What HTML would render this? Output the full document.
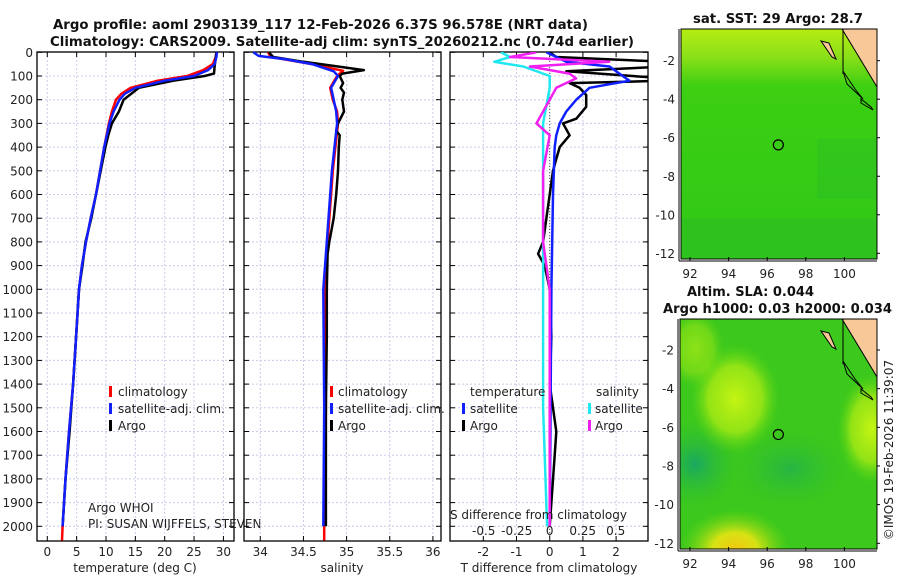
<!DOCTYPE html>
<html><head><meta charset="utf-8"><style>
html,body{margin:0;padding:0;background:#fff;}
svg{display:block;font-family:"DejaVu Sans","Liberation Sans",sans-serif;}
.t{font-size:12px;fill:#222;}
.b{font-weight:bold;font-size:13px;fill:#111;}
</style></head><body>
<svg id="fig" width="900" height="580" viewBox="0 0 900 580" xmlns="http://www.w3.org/2000/svg">
<defs>
<linearGradient id="sstTop" x1="0" y1="0" x2="0" y2="1">
<stop offset="0" stop-color="#b6ec14"/><stop offset="0.12" stop-color="#8be018"/><stop offset="0.25" stop-color="#3ccf12"/><stop offset="1" stop-color="#30c818"/></linearGradient>
<radialGradient id="y1" cx="0.5" cy="0.5" r="0.5"><stop offset="0" stop-color="#c4f414"/><stop offset="0.6" stop-color="#a8ea14" stop-opacity="0.8"/><stop offset="1" stop-color="#5cd814" stop-opacity="0"/></radialGradient>
<radialGradient id="y2" cx="0.5" cy="0.5" r="0.5"><stop offset="0" stop-color="#f0c810"/><stop offset="0.4" stop-color="#d8e214"/><stop offset="1" stop-color="#70d814" stop-opacity="0"/></radialGradient>
<radialGradient id="tl" cx="0.5" cy="0.5" r="0.5"><stop offset="0" stop-color="#18a860"/><stop offset="1" stop-color="#30c030" stop-opacity="0"/></radialGradient>
</defs>
<g id="titles">
<text class="b" x="53" y="29" textLength="535" lengthAdjust="spacingAndGlyphs">Argo profile: aoml 2903139_117 12-Feb-2026 6.37S 96.578E (NRT data)</text>
<text class="b" x="50" y="46" textLength="584" lengthAdjust="spacingAndGlyphs">Climatology: CARS2009. Satellite-adj clim: synTS_20260212.nc (0.74d earlier)</text>
<text class="b" x="693" y="23" textLength="170" lengthAdjust="spacingAndGlyphs">sat. SST: 29 Argo: 28.7</text>
<text class="b" x="687" y="296" textLength="127" lengthAdjust="spacingAndGlyphs">Altim. SLA: 0.044</text>
<text class="b" x="663" y="313" textLength="229" lengthAdjust="spacingAndGlyphs">Argo h1000: 0.03 h2000: 0.034</text>
<text class="t" x="893" y="450" transform="rotate(-90 893 450)" text-anchor="middle">©IMOS 19-Feb-2026 11:39:07</text>
</g>
<g id="panels"></g>
<g id="maps"></g>
</svg>
<script>
// ---- data ----
var depthTicks = [0,100,200,300,400,500,600,700,800,900,1000,1100,1200,1300,1400,1500,1600,1700,1800,1900,2000];
var tempTicks = [0,5,10,15,20,25,30];
var salTicks = [34,34.5,35,35.5,36];
var salTickLabels = ["34","34.5","35","35.5","36"];
var tdTicks = [-2,-1,0,1,2];
var sdTicks = [-0.5,-0.25,0,0.25,0.5];
var sdTickLabels = ["-0.5","-0.25","0","0.25","0.5"];

var tClimDepth = [0,20,50,75,100,120,150,175,200,250,300,400,500,600,700,800,900,1000,1200,1400,1600,1800,2000,2060];
var tClim      = [28.8,28.7,28.2,26.6,23.8,18.8,14.2,12.6,11.7,11.0,10.5,9.7,9.0,8.3,7.4,6.6,5.9,5.4,4.9,4.4,3.7,3.1,2.6,2.5];
var tSatDepth  = [0,20,50,75,100,120,150,175,200,250,300,400,500,600,700,800,900,1000,1200,1400,1600,1800,2000];
var tSat       = [28.9,28.8,28.5,27.4,25.0,20.0,15.0,13.2,12.3,11.3,10.6,9.7,9.0,8.3,7.4,6.6,5.9,5.4,4.9,4.4,3.7,3.1,2.6];
var tArgoDepth = [0,20,40,60,90,100,120,150,200,250,300,350,400,500,600,700,800,900,1000,1200,1400,1600,1800,2000];
var tArgo      = [28.8,28.7,28.6,28.5,28.4,26.8,21.5,15.6,13.0,12.2,11.0,10.4,9.9,9.1,8.3,7.5,6.5,6.0,5.4,4.9,4.4,3.8,3.1,2.6];

var sClimDepth = [0,20,50,78,100,150,200,250,300,500,800,1000,1500,2000,2060];
var sClim      = [34.09,34.12,34.6,34.96,34.89,34.81,34.84,34.89,34.9,34.84,34.78,34.74,34.76,34.74,34.74];
var sSatDepth  = [0,15,30,50,80,100,150,200,250,300,500,800,1000,1500,2000];
var sSat       = [33.92,33.98,34.3,34.6,34.85,34.9,34.82,34.85,34.88,34.89,34.83,34.77,34.73,34.74,34.73];
var sArgoDepth = [0,20,40,60,75,90,100,130,150,170,200,250,300,330,350,400,500,600,700,800,850,1000,1200,1500,2000];
var sArgo      = [34.1,34.15,34.5,34.9,35.2,34.95,34.92,34.96,34.93,34.97,34.95,34.97,34.9,34.88,34.92,34.91,34.9,34.88,34.85,34.8,34.78,34.77,34.77,34.76,34.76];

var dTArgoDepth = [0,20,40,60,80,110,120,130,150,180,230,280,300,350,400,450,500,600,700,800,850,900,1000,1200,1400,1600,1700,2000];
var dTArgo      = [0,0.2,3.5,3.5,0.5,3.5,3.5,0.6,0.9,1.1,1.1,0.8,0.4,0.6,0.3,0.2,0.1,0,-0.1,-0.2,-0.35,-0.15,0,0.05,0,0.2,0.15,0];
var dTSatDepth  = [0,40,60,100,120,150,200,250,300,350,400,600,1000,2000];
var dTSat       = [-0.1,0.5,1.8,2.2,2.4,1.2,0.8,0.5,0.3,0.2,0.15,0.1,0.05,0];
var dSSatDepth  = [0,20,40,60,100,150,300,600,1000,1500,2000];
var dSSat       = [-0.37,-0.3,-0.42,-0.2,0,0,-0.05,-0.05,-0.05,-0.05,-0.02];
var dSArgoDepth = [0,20,40,60,90,110,150,200,300,350,500,800,1000,1500,2000];
var dSArgo      = [-0.1,-0.3,0.45,-0.15,0.15,0.2,0.05,0,-0.1,0,-0.05,-0.05,0,0,0];

var floatLon = [96.578];
var floatLat = [-6.37];

// ---- scales ----
var PY0 = 52, PY1 = 541;
function yD(d){ return 52.3 + d*0.2370; }
function xT(t){ return 47.3 + t*5.87; }
function xS(s){ return 260.3 + (s-34)*86.3; }
function xDT(t){ return 549.7 + t*33.2; }
function xDS(s){ return 549.7 + s*132; }
var NS = "http://www.w3.org/2000/svg";
function el(tag, attrs, parent, txt){
  var e = document.createElementNS(NS, tag);
  for (var k in attrs) e.setAttribute(k, attrs[k]);
  if (txt !== undefined) e.textContent = txt;
  parent.appendChild(e); return e;
}
var P = document.getElementById('panels');

function panel(name, x0, x1, xTickVals, xf, labels){
  var g = el('g', {}, P);
  
  
  depthTicks.forEach(function(d){
    var y = yD(d);
    el('line',{x1:x0,x2:x1,y1:y,y2:y,stroke:'#c8cce8','stroke-dasharray':'2,2','stroke-width':1},g);
    el('line',{x1:x0,x2:x0+5,y1:y,y2:y,stroke:'#000'},g);
    el('line',{x1:x1-5,x2:x1,y1:y,y2:y,stroke:'#000'},g);
  });
  xTickVals.forEach(function(v,i){
    var x = xf(v);
    el('line',{x1:x,x2:x,y1:PY0,y2:PY1,stroke:'#c8cce8','stroke-dasharray':'2,2','stroke-width':1},g);
    el('line',{x1:x,x2:x,y1:PY0,y2:PY0+5,stroke:'#000'},g);
    el('line',{x1:x,x2:x,y1:PY1-5,y2:PY1,stroke:'#000'},g);
    var t = el('text',{x:x,y:556,'text-anchor':'middle','class':'t'},g,labels? labels[i] : String(v));
    
    
  });
  el('rect',{x:x0,y:PY0,width:x1-x0,height:PY1-PY0,fill:'none',stroke:'#000','stroke-width':1.3},g);
  return g;
}
function line(g, depths, vals, xf, color, w, name){
  var pts = depths.map(function(d,i){ return xf(vals[i]).toFixed(1)+','+yD(d).toFixed(1); }).join(' ');
  var p = el('polyline',{points:pts,fill:'none',stroke:color,'stroke-width':w,'stroke-linejoin':'round'},g);
  
  
}
function txt(g, x, y, s, name, anchor){
  var t = el('text',{x:x,y:y,'class':'t','text-anchor':anchor||'start'},g,s);
  
  
}
function bar(g,x,y,color,name){
  var r = el('rect',{x:x,y:y-10,width:3,height:11,fill:color},g);
  
  
}

// Panel 1: temperature
var g1 = panel('temperature-panel', 37, 234, tempTicks, xT);
depthTicks.forEach(function(d){
  var t = el('text',{x:33,y:yD(d)+4.5,'text-anchor':'end','class':'t'},g1,String(d));
  
  
});
line(g1,tClimDepth,tClim,xT,'#f00',2.5,'temp-climatology-line');
line(g1,tArgoDepth,tArgo,xT,'#000',2.5,'temp-argo-line');
line(g1,tSatDepth,tSat,xT,'#1020ff',2.5,'temp-satellite-line');
bar(g1,109,396,'#f00','legend-climatology-swatch'); txt(g1,118,396,'climatology','legend-climatology');
bar(g1,109,413,'#1020ff','legend-satellite-swatch'); txt(g1,118,413,'satellite-adj. clim.','legend-satellite');
bar(g1,109,430,'#000','legend-argo-swatch'); txt(g1,118,430,'Argo','legend-argo');
txt(g1,88,512,'Argo WHOI','institution-note');
txt(g1,88,528,'PI: SUSAN WIJFFELS, STEVEN','pi-note');
txt(g1,135,572,'temperature (deg C)','temperature-axis-title','middle');

// Panel 2: salinity
var g2 = panel('salinity-panel', 244, 441, salTicks, xS, salTickLabels);
line(g2,sClimDepth,sClim,xS,'#f00',2.5,'sal-climatology-line');
line(g2,sArgoDepth,sArgo,xS,'#000',2.5,'sal-argo-line');
line(g2,sSatDepth,sSat,xS,'#1020ff',2.5,'sal-satellite-line');
bar(g2,330,396,'#f00','legend-climatology-swatch'); txt(g2,338,396,'climatology','legend-climatology');
bar(g2,330,413,'#1020ff','legend-satellite-swatch'); txt(g2,338,413,'satellite-adj. clim.','legend-satellite');
bar(g2,330,430,'#000','legend-argo-swatch'); txt(g2,338,430,'Argo','legend-argo');
txt(g2,342,572,'salinity','salinity-axis-title','middle');

// Panel 3: differences
var g3 = panel('difference-panel', 450, 648, tdTicks, xDT);
var cp = el('clipPath',{id:'c3'},g3); el('rect',{x:450,y:52,width:198,height:489},cp);
var g3c = el('g',{'clip-path':'url(#c3)'},g3);
el('line',{x1:xDT(0),x2:xDT(0),y1:PY0,y2:PY1,stroke:'#555','stroke-dasharray':'1,2'},g3c);
line(g3c,dTArgoDepth,dTArgo,xDT,'#000',2.5,'tdiff-argo-line');
line(g3c,dSSatDepth,dSSat,xDS,'#20e8f0',2.5,'sdiff-satellite-line');
line(g3c,dTSatDepth,dTSat,xDT,'#1020ff',2.5,'tdiff-satellite-line');
line(g3c,dSArgoDepth,dSArgo,xDS,'#f020f0',2.5,'sdiff-argo-line');
txt(g3,470,396,'temperature','legend-temperature-header');
txt(g3,596,396,'salinity','legend-salinity-header');
bar(g3,462,413,'#1020ff','legend-tsat-swatch'); txt(g3,470,413,'satellite','legend-tsat');
bar(g3,462,430,'#000','legend-targo-swatch'); txt(g3,470,430,'Argo','legend-targo');
bar(g3,588,413,'#20e8f0','legend-ssat-swatch'); txt(g3,595,413,'satellite','legend-ssat');
bar(g3,588,430,'#f020f0','legend-sargo-swatch'); txt(g3,595,430,'Argo','legend-sargo');
txt(g3,450,519,'S difference from climatology','s-axis-title');
sdTicks.forEach(function(v,i){ txt(g3,xDS(v),535,sdTickLabels[i],'s-tick-label','middle'); });
txt(g3,549,572,'T difference from climatology','t-axis-title','middle');

// ---- maps ----
var M = document.getElementById('maps');
var mapLonTicks = [92,94,96,98,100];
var mapLatTicks = [-2,-4,-6,-8,-10,-12];
function map(name, x0, x1, y0, y1, latM2y, pxPerDeg, kind){
  var g = el('g',{},M);
  
  
  var lonX = function(l){ return 690 + (l-92)*19.3; };
  var latY = function(l){ return latM2y + (-2-l)*pxPerDeg; };
  var id = 'clip'+name;
  var cp = el('clipPath',{id:id},g); el('rect',{x:x0,y:y0,width:x1-x0,height:y1-y0},cp);
  var gc = el('g',{'clip-path':'url(#'+id+')'},g);
  if (kind==='sst'){
    el('rect',{x:x0,y:y0,width:x1-x0,height:y1-y0,fill:'url(#sstTop)'},gc);
    el('rect',{x:x0,y:y1-40,width:x1-x0,height:40,fill:'#2ab828',opacity:0.4},gc);
    el('rect',{x:x1-60,y:y0+110,width:60,height:60,fill:'#28b830',opacity:0.3},gc);
  } else {
    el('rect',{x:x0,y:y0,width:x1-x0,height:y1-y0,fill:'#3cc81c'},gc);
    el('ellipse',{cx:x0+15,cy:y1-85,rx:45,ry:45,fill:'url(#tl)'},gc);
    el('ellipse',{cx:x0+110,cy:y1-80,rx:60,ry:40,fill:'url(#tl)',opacity:0.6},gc);
    el('ellipse',{cx:x0+55,cy:y0+80,rx:45,ry:55,fill:'url(#y1)'},gc);
    el('ellipse',{cx:x0+15,cy:y0+30,rx:30,ry:40,fill:'url(#y1)',opacity:0.6},gc);
    el('ellipse',{cx:x1-5,cy:y0+110,rx:35,ry:55,fill:'url(#y1)'},gc);
    el('ellipse',{cx:x0+55,cy:y1,rx:55,ry:40,fill:'url(#y2)'},gc);
  }
  // land
  el('polygon',{points:(x1-35)+','+y0+' '+x1+','+y0+' '+x1+','+(y0+58)+' '+(x1-12)+','+(y0+38),fill:'#f8c898',stroke:'#000','stroke-width':1},gc);
  el('polygon',{points:(x1-56)+','+(y0+12)+' '+(x1-48)+','+(y0+14)+' '+(x1-41)+','+(y0+30)+' '+(x1-45)+','+(y0+28),fill:'#f8c898',stroke:'#000'},gc);
  el('line',{x1:x1-34,y1:y0,x2:x1-34,y2:y0+45,stroke:'#000'},gc);
  el('polygon',{points:(x1-34)+','+(y0+42)+' '+(x1-22)+','+(y0+60)+' '+(x1-14)+','+(y0+70)+' '+(x1-30)+','+(y0+55),fill:'none',stroke:'#000'},gc);
  el('polygon',{points:(x1-16)+','+(y0+70)+' '+(x1-6)+','+(y0+78)+' '+(x1-4)+','+(y0+81)+' '+(x1-16)+','+(y0+74),fill:'none',stroke:'#000'},gc);
  var c = el('circle',{cx:lonX(floatLon[0]),cy:latY(floatLat[0]),r:5,fill:'none',stroke:'#000','stroke-width':1.2},g);
  
  
  el('rect',{x:x0,y:y0,width:x1-x0,height:y1-y0,fill:'none',stroke:'#000','stroke-width':1},g);
  el('line',{x1:x0-2,y1:y1+2,x2:x1,y2:y1+2,stroke:'#000'},g);
  el('line',{x1:x0-2,y1:y0,x2:x0-2,y2:y1+2,stroke:'#000'},g);
  mapLonTicks.forEach(function(l){
    var x = lonX(l);
    el('line',{x1:x,x2:x,y1:y1+2,y2:y1-2,stroke:'#000'},g);
    var t = el('text',{x:x,y:y1+19,'text-anchor':'middle','class':'t'},g,String(l));
    
    
  });
  mapLatTicks.forEach(function(l){
    var y = latY(l);
    el('line',{x1:x1,x2:x1+3,y1:y,y2:y,stroke:'#000'},g);
    var t = el('text',{x:x0-6,y:y+4.5,'text-anchor':'end','class':'t'},g,String(l));
    
    
  });
}
map('sst-map', 681, 877, 29, 259, 60.7, 19.26, 'sst');
map('sla-map', 680, 877, 319, 549, 350, 19.33, 'sla');
</script>
</body></html>
